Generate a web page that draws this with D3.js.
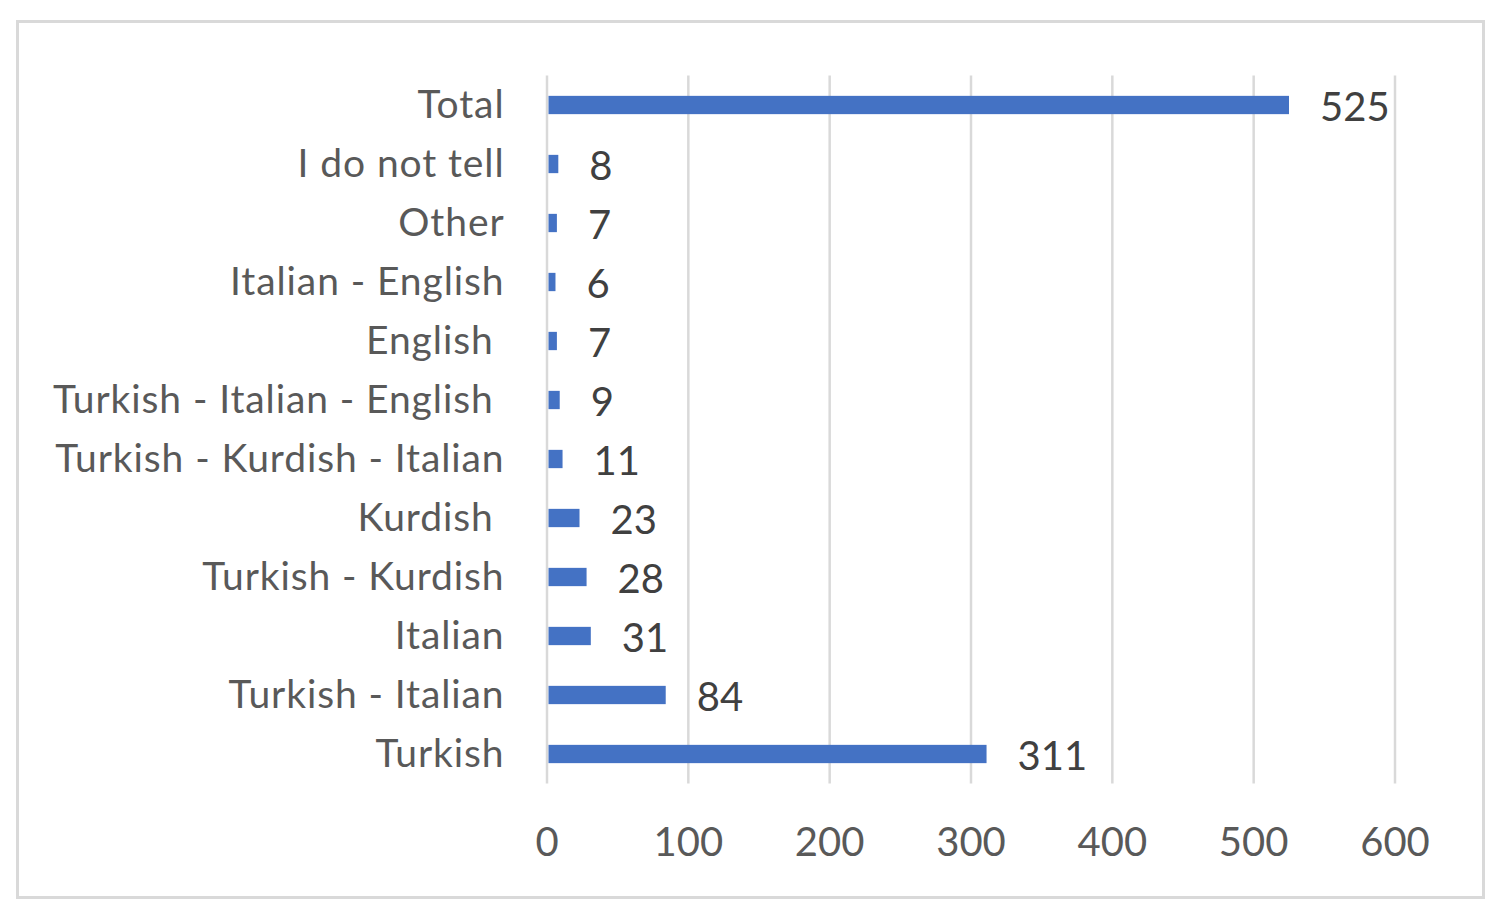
<!DOCTYPE html>
<html><head><meta charset="utf-8">
<script src="https://cdn.jsdelivr.net/npm/d3@7"></script>
<style>html,body{margin:0;padding:0;background:#fff;}svg{display:block;}</style>
</head><body>
<script>
const categories = ["Total","I do not tell","Other","Italian - English","English ","Turkish - Italian - English ","Turkish - Kurdish - Italian","Kurdish ","Turkish - Kurdish","Italian","Turkish - Italian","Turkish"];
const values = [525,8,7,6,7,9,11,23,28,31,84,311];
const xTicks = [0,100,200,300,400,500,600];

const W=1498,H=917;
const svg=d3.select("body").append("svg").attr("width",W).attr("height",H);
svg.append("rect").attr("x",0).attr("y",0).attr("width",W).attr("height",H).attr("fill","#fff");
svg.append("rect").attr("x",17.5).attr("y",21.5).attr("width",1466).attr("height",876)
  .attr("fill","none").attr("stroke","#d9d9d9").attr("stroke-width",3);

const x=d3.scaleLinear().domain([0,600]).range([547,1395]);
const y=d3.scaleBand().domain(categories).range([75.5,783.5]).paddingInner(0.69).paddingOuter(0.345);
const font="Lato, 'Open Sans', sans-serif";

svg.append("g").selectAll("line").data(xTicks).join("line")
  .attr("x1",d=>x(d)).attr("x2",d=>x(d)).attr("y1",75.5).attr("y2",783.5)
  .attr("stroke","#d9d9d9").attr("stroke-width",2.5);

svg.append("g").selectAll("text").data(xTicks).join("text")
  .attr("x",d=>x(d)).attr("y",856).attr("text-anchor","middle")
  .attr("font-family",font).attr("font-size",40).attr("fill","#595959").text(d=>d);

svg.append("g").selectAll("rect").data(values).join("rect")
  .attr("x",x(0)+1.5).attr("y",(d,i)=>y(categories[i]))
  .attr("width",d=>x(d)-x(0)-1.5).attr("height",y.bandwidth()).attr("fill","#4472C4");

svg.append("g").selectAll("text").data(categories).join("text")
  .attr("x",504.5).attr("y",d=>y(d)+y.bandwidth()/2+13).attr("text-anchor","end")
  .attr("font-family",font).attr("font-size",39).attr("letter-spacing",0.9).attr("fill","#595959")
  .attr("xml:space","preserve").style("white-space","pre").text(d=>d);

svg.append("g").selectAll("text").data(values).join("text")
  .attr("x",d=>x(d)+31).attr("y",(d,i)=>y(categories[i])+y.bandwidth()/2+16)
  .attr("font-family",font).attr("font-size",40).attr("fill","#404040").text(d=>d);
</script>
</body></html>
